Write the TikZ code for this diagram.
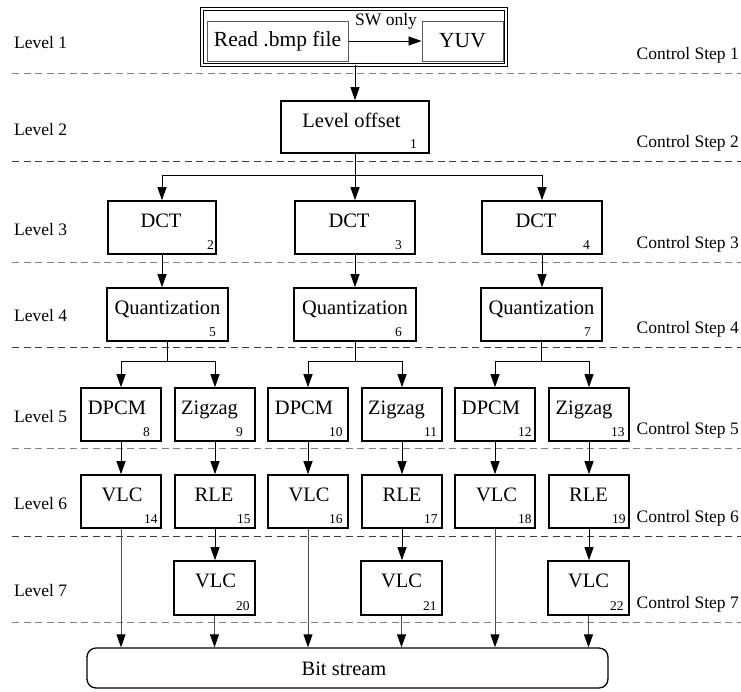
\documentclass[tikz,border=0pt]{standalone}
\usepackage{fontspec}
\setmainfont{Liberation Serif}
\usetikzlibrary{arrows.meta}

\definecolor{dashdark}{HTML}{3C3C3C}
\definecolor{dashlight}{HTML}{808080}
\definecolor{framegray}{HTML}{5A5A5A}

\tikzset{
  boxframe/.style={draw=black, line width=1.6pt, rectangle, inner sep=0pt},
  boxtext/.style={font=\fontsize{20.5}{22}\selectfont, inner sep=0pt, anchor=base},
  boxnum/.style={font=\fontsize{13.5}{14}\selectfont, inner sep=0pt, anchor=base west},
  levlabel/.style={font=\fontsize{17.5}{19}\selectfont, inner sep=0pt, anchor=base west},
  steplabel/.style={font=\fontsize{17.5}{19}\selectfont, inner sep=0pt, anchor=base east},
  tip/.style={-{Triangle[length=13pt,width=9pt,color=black]}},
  flow/.style={line width=0.9pt, tip},
  wire/.style={line width=0.9pt},
  feed/.style={line width=0.8pt, draw=black!70, tip},
  stepline/.style={dash pattern=on 7pt off 4.5pt, line width=0.9pt},
}

% #1 name, #2 cx, #3 cy, #4 width, #5 height, #6 text, #7 text shift,
% #8 task number, #9 distance of the number from the right side
\newcommand{\stage}[9]{%
  \node[boxframe, minimum width=#4pt, minimum height=#5pt] (#1) at (#2,#3) {};
  \node[boxtext] (#1-text) at ([xshift=#7pt, yshift=-27pt]#1.north) {#6};
  \node[boxnum] (#1-num) at ([xshift=-#9pt, yshift=5pt]#1.south east) {#8};
}

\begin{document}
\begin{tikzpicture}[x=1pt, y=-1pt]
\useasboundingbox (0,0) rectangle (741,691);

% control step separators
\draw[stepline, dashlight] (12,73)  -- (741,73);
\draw[stepline, dashdark]  (12,161) -- (741,161);
\draw[stepline, dashlight] (12,262) -- (741,262);
\draw[stepline, dashdark]  (12,347) -- (741,347);
\draw[stepline, dashlight] (12,448) -- (741,448);
\draw[stepline, dashdark]  (12,536) -- (741,536);
\draw[stepline, dashlight] (12,622) -- (741,622);

% level labels
\node[levlabel] (lev1) at (14,48)  {Level 1};
\node[levlabel] (lev2) at (14,135) {Level 2};
\node[levlabel] (lev3) at (14,235) {Level 3};
\node[levlabel] (lev4) at (14,321) {Level 4};
\node[levlabel] (lev5) at (14,422) {Level 5};
\node[levlabel] (lev6) at (14,509) {Level 6};
\node[levlabel] (lev7) at (14,596) {Level 7};

% control step labels
\node[steplabel] (cs1) at (739,59)  {Control Step 1};
\node[steplabel] (cs2) at (739,147) {Control Step 2};
\node[steplabel] (cs3) at (739,248) {Control Step 3};
\node[steplabel] (cs4) at (739,333) {Control Step 4};
\node[steplabel] (cs5) at (739,434) {Control Step 5};
\node[steplabel] (cs6) at (739,522) {Control Step 6};
\node[steplabel] (cs7) at (739,608) {Control Step 7};

% input stage
\node[draw, line width=0.9pt, double, double distance=2pt, inner sep=0pt,
      minimum width=304pt, minimum height=56pt] (src) at (354,37) {};
\node[draw=framegray, line width=1pt, inner sep=0pt, minimum width=141pt,
      minimum height=40pt, font=\fontsize{21.5}{23}\selectfont] (rd) at (277.5,41) {Read .bmp file};
\node[draw=framegray, line width=1pt, inner sep=0pt, minimum width=81pt,
      minimum height=40pt, font=\fontsize{21.5}{23}\selectfont] (yuv) at (462.5,41) {YUV};
\draw[flow] (rd) -- (yuv);
\node[font=\fontsize{17.5}{19}\selectfont, inner sep=0pt] (sw) at (386,21) {SW only};

% tasks
\stage{lo}{355}{127}{148}{52}{Level offset}{-3.5}{1}{20}

\stage{dcta}{162}{227.5}{108}{53}{DCT}{-1}{2}{10}
\stage{dctb}{355}{227.5}{120}{53}{DCT}{-6}{3}{21}
\stage{dctc}{542}{227.5}{120}{53}{DCT}{-6}{4}{20}

\stage{qa}{167.5}{314.5}{121}{53}{Quantization}{0}{5}{20}
\stage{qb}{355}{314.5}{122}{53}{Quantization}{0}{6}{22}
\stage{qc}{541.5}{314.5}{121}{53}{Quantization}{0}{7}{19}

\stage{dpa}{121}{414.5}{80}{53}{DPCM}{-4}{8}{19}
\stage{zza}{215}{414.5}{80}{53}{Zigzag}{-5.5}{9}{20}
\stage{dpb}{308}{414.5}{80}{53}{DPCM}{-4}{10}{20}
\stage{zzb}{402}{414.5}{80}{53}{Zigzag}{-5.5}{11}{19}
\stage{dpc}{495}{414.5}{80}{53}{DPCM}{-4}{12}{18}
\stage{zzc}{589}{414.5}{80}{53}{Zigzag}{-5}{13}{19}

\stage{vla}{121}{501.5}{80}{53}{VLC}{1}{14}{18}
\stage{rla}{215}{501.5}{80}{53}{RLE}{-1}{15}{19}
\stage{vlb}{308}{501.5}{80}{53}{VLC}{1}{16}{20}
\stage{rlb}{402}{501.5}{80}{53}{RLE}{0}{17}{19}
\stage{vlc}{495}{501.5}{80}{53}{VLC}{1.5}{18}{18}
\stage{rlc}{589}{501.5}{80}{53}{RLE}{-0.5}{19}{18}

\stage{vld}{214.5}{588}{81}{54}{VLC}{1}{20}{20}
\stage{vle}{401.5}{588}{81}{54}{VLC}{0}{21}{20}
\stage{vlf}{588.5}{588}{81}{54}{VLC}{0}{22}{20}

% output
\node[draw, line width=1.3pt, rounded corners=9pt, inner sep=0pt,
      minimum width=521pt, minimum height=40pt] (bs) at (347.5,668) {};
\node[font=\fontsize{20.5}{22}\selectfont, inner sep=0pt] (bs-text) at (344,669) {Bit stream};

% connectors
\draw[flow] (src.south -| lo.north) -- (lo.north);

\coordinate (fork1) at (355,175);
\draw[wire] (lo.south) -- (fork1);
\draw[flow] (fork1) -| (dcta.north);
\draw[flow] (fork1) -- (dctb.north);
\draw[flow] (fork1) -| (dctc.north);

\draw[flow] (dcta.south) -- (dcta.south |- qa.north);
\draw[flow] (dctb.south) -- (dctb.south |- qb.north);
\draw[flow] (dctc.south) -- (dctc.south |- qc.north);

\coordinate (fork2a) at (167.5,361);
\coordinate (fork2b) at (355,361);
\coordinate (fork2c) at (541.5,361);
\draw[wire] (qa.south) -- (fork2a);
\draw[wire] (qb.south) -- (fork2b);
\draw[wire] (qc.south) -- (fork2c);
\draw[flow] (fork2a) -| (dpa.north);
\draw[flow] (fork2a) -| (zza.north);
\draw[flow] (fork2b) -| (dpb.north);
\draw[flow] (fork2b) -| (zzb.north);
\draw[flow] (fork2c) -| (dpc.north);
\draw[flow] (fork2c) -| (zzc.north);

\draw[flow] (dpa.south) -- (vla.north);
\draw[flow] (zza.south) -- (rla.north);
\draw[flow] (dpb.south) -- (vlb.north);
\draw[flow] (zzb.south) -- (rlb.north);
\draw[flow] (dpc.south) -- (vlc.north);
\draw[flow] (zzc.south) -- (rlc.north);

\draw[flow] (rla.south) -- (rla.south |- vld.north);
\draw[flow] (rlb.south) -- (rlb.south |- vle.north);
\draw[flow] (rlc.south) -- (rlc.south |- vlf.north);

\draw[feed] (vla.south) -- (vla.south |- bs.north);
\draw[feed] (vld.south) -- (vld.south |- bs.north);
\draw[feed] (vlb.south) -- (vlb.south |- bs.north);
\draw[feed] (vle.south) -- (vle.south |- bs.north);
\draw[feed] (vlc.south) -- (vlc.south |- bs.north);
\draw[feed] (vlf.south) -- (vlf.south |- bs.north);
\end{tikzpicture}
\end{document}
